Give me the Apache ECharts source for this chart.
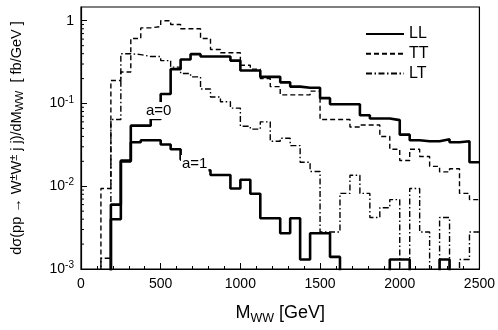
<!DOCTYPE html>
<html>
<head>
<meta charset="utf-8">
<script src="https://cdn.jsdelivr.net/npm/echarts@6/dist/echarts.min.js"></script>
<style>
  html, body { margin: 0; padding: 0; background: #fff; }
  #main { width: 498px; height: 330px; }
</style>
</head>
<body>
<div id="main"></div>
<script>
// bin lower edges [GeV], bin width 62.5
const binEdges = [0, 62.5, 125, 187.5, 250, 312.5, 375, 437.5, 500, 562.5,
  625, 687.5, 750, 812.5, 875, 937.5, 1000, 1062.5, 1125, 1187.5,
  1250, 1312.5, 1375, 1437.5, 1500, 1562.5, 1625, 1687.5, 1750, 1812.5,
  1875, 1937.5, 2000, 2062.5, 2125, 2187.5, 2250, 2312.5, 2375, 2437.5]
const xMax = 2500

// dsigma/dM [fb/GeV], 0 = empty bin
const llA0 = [0, 0, 0, 0.006, 0.02, 0.054, 0.054, 0.065, 0.13, 0.26,
  0.34, 0.395, 0.37, 0.37, 0.37, 0.33, 0.25, 0.25, 0.21, 0.21,
  0.18, 0.16, 0.155, 0.155, 0.116, 0.098, 0.098, 0.098, 0.072, 0.066,
  0.066, 0.063, 0.042, 0.036, 0.035, 0.035, 0.037, 0.034, 0.035, 0.0195]
const llA1 = [0, 0, 0, 0.004, 0.0205, 0.034, 0.036, 0.036, 0.032, 0.028,
  0.021, 0.018, 0.0156, 0.0137, 0.0137, 0.0094, 0.012, 0.0081, 0.0041, 0.0041,
  0.0027, 0.0041, 0.0013, 0.0027, 0.0027, 0.0014, 0, 0, 0, 0,
  0, 0.0013, 0.0013, 0, 0, 0, 0.0013, 0, 0, 0]
const tt = [0, 0, 0.0094, 0.19, 0.24, 0.61, 0.82, 0.85, 1.0, 0.9,
  0.8, 0.8, 0.61, 0.45, 0.41, 0.41, 0.29, 0.26, 0.2, 0.16,
  0.127, 0.127, 0.127, 0.141, 0.064, 0.064, 0.064, 0.052, 0.055, 0.055,
  0.04, 0.028, 0.0205, 0.028, 0.0229, 0.0174, 0.0149, 0.0163, 0.0082, 0.0069]
const lt = [0, 0, 0.00135, 0.064, 0.4, 0.39, 0.37, 0.37, 0.33, 0.275,
  0.23, 0.21, 0.15, 0.12, 0.105, 0.088, 0.053, 0.049, 0.06, 0.035,
  0.038, 0.031, 0.0195, 0.0151, 0.0028, 0.0028, 0.0082, 0.0136, 0.0082, 0.0042,
  0.0055, 0.0069, 0, 0.0094, 0.0028, 0, 0.0042, 0, 0.0013, 0.0028]

// minor ticks of the log axis
const yMinorTicks = [0.002, 0.003, 0.004, 0.005, 0.006, 0.007, 0.008, 0.009,
  0.02, 0.03, 0.04, 0.05, 0.06, 0.07, 0.08, 0.09,
  0.2, 0.3, 0.4, 0.5, 0.6, 0.7, 0.8, 0.9]

const FONT = 'Liberation Sans'
const FLOOR = 1e-5 // empty bins drop below the axis (clipped)

// histogram as step line: one point per bin edge
function steps(vals) {
  const pts = binEdges.map((e, i) => [e, vals[i] > 0 ? vals[i] : FLOOR])
  pts.push([xMax, vals[vals.length - 1] > 0 ? vals[vals.length - 1] : FLOOR])
  return pts
}

function histSeries(name, vals, lineStyle) {
  return {
    name: name,
    type: 'line',
    step: 'end',
    symbol: 'none',
    clip: true,
    animation: false,
    data: steps(vals),
    lineStyle: Object.assign({ color: '#000' }, lineStyle),
    itemStyle: { color: '#000' },
  }
}

const chart = echarts.init(document.getElementById('main'))
const option = {
  animation: false,
  backgroundColor: '#fff',
  textStyle: { fontFamily: FONT, color: '#000' },
  grid: {
    left: 76, right: 17, top: 7, bottom: 56,
    show: true, borderColor: '#000', borderWidth: 1.2,
  },
  legend: {
    data: ['LL', 'TT', 'LT'],
    orient: 'vertical',
    left: 360,
    top: 21,
    itemWidth: 38,
    itemHeight: 14,
    itemGap: 3.7,
    itemStyle: { opacity: 0 },
    textStyle: { fontFamily: FONT, fontSize: 16, color: '#000' },
    inactiveColor: '#000',
  },
  xAxis: {
    type: 'value',
    min: 0,
    max: xMax,
    interval: 500,
    name: 'M{b|WW} [GeV]',
    nameLocation: 'middle',
    nameGap: 33,
    nameTextStyle: {
      fontFamily: FONT, fontSize: 18, color: '#000',
      rich: { b: { fontFamily: FONT, fontSize: 12.5, color: '#000', padding: [10, 0, 0, 0] } },
    },
    axisLine: { lineStyle: { color: '#000', width: 1.2 } },
    axisTick: { inside: true, length: 6, lineStyle: { color: '#000' } },
    minorTick: { show: true, splitNumber: 5, length: 3, lineStyle: { color: '#000' } },
    splitLine: { show: false },
    axisLabel: {
      fontFamily: FONT, fontSize: 14, color: '#000', margin: 8,
      formatter: function (v) { return String(v) },
    },
  },
  yAxis: {
    type: 'log',
    logBase: 10,
    min: 0.001,
    max: 1.466,
    name: 'dσ(pp → W{s|±}W{s|±} j j)/dM{b|WW}  [ fb/GeV ]',
    nameLocation: 'middle',
    nameRotate: 90,
    nameGap: 55,
    nameTextStyle: {
      fontFamily: FONT, fontSize: 14.5, color: '#000',
      rich: {
        s: { fontFamily: FONT, fontSize: 11, color: '#000', padding: [0, 0, 7, 0] },
        b: { fontFamily: FONT, fontSize: 11, color: '#000', padding: [6, 0, 0, 0] },
      },
    },
    axisLine: { show: true, lineStyle: { color: '#000', width: 1.2 } },
    axisTick: { show: true, inside: true, length: 6, lineStyle: { color: '#000' } },
    splitLine: { show: false },
    axisLabel: {
      fontFamily: FONT, fontSize: 14, color: '#000', margin: 7,
      showMaxLabel: false,
      formatter: function (v) {
        const e = Math.round(Math.log10(v))
        return e === 0 ? '1' : '10{s|' + e + '}'
      },
      rich: { s: { fontFamily: FONT, fontSize: 10, color: '#000', padding: [0, 0, 7, 0] } },
    },
  },
  graphic: [
    { type: 'text', left: 145, top: 102, z: 100,
      style: { text: 'a=0', font: '15px "Liberation Sans"', fill: '#000', backgroundColor: '#fff', padding: [1, 1] } },
    { type: 'text', left: 181, top: 155, z: 100,
      style: { text: 'a=1', font: '15px "Liberation Sans"', fill: '#000', backgroundColor: '#fff', padding: [1, 1] } },
  ],
  series: [
    histSeries('LL', llA0, { width: 2.6 }),
    histSeries('LL a=1', llA1, { width: 2.6 }),
    histSeries('TT', tt, { width: 1.4, type: [5, 3] }),
    histSeries('LT', lt, { width: 1.4, type: [6, 2.5, 1.5, 2.5] }),
    {
      type: 'custom',
      silent: true,
      animation: false,
      data: yMinorTicks.map(v => [0, v]),
      renderItem: function (params, api) {
        const p = api.coord([api.value(0), api.value(1)])
        return {
          type: 'line',
          shape: { x1: p[0], y1: p[1], x2: p[0] + 3, y2: p[1] },
          style: { stroke: '#000', lineWidth: 1 },
        }
      },
    },
  ],
}
chart.setOption(option)
</script>
</body>
</html>
